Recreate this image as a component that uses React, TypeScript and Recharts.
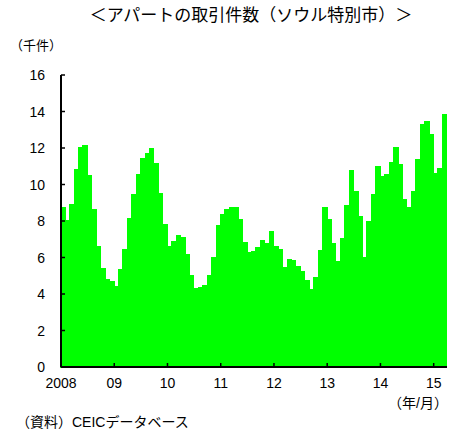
import { Bar, BarChart, XAxis, YAxis } from "recharts";

// monthly transactions, thousand units (2008/01 - 2015/03)
const YEARS = [2008, 2009, 2010, 2011, 2012, 2013, 2014, 2015];
const YEAR_LABELS = ["2008", "09", "10", "11", "12", "13", "14", "15"];
const Y_TICKS = [0, 2, 4, 6, 8, 10, 12, 14, 16];

const V2008 = [8.7, 8.0, 8.9, 10.8, 12.0, 12.1, 10.5, 8.6, 6.6, 5.4, 4.8, 4.65];
const V2009 = [4.4, 5.35, 6.4, 8.15, 9.45, 10.55, 11.4, 11.7, 11.95, 11.15, 9.5, 7.8];
const V2010 = [6.6, 6.85, 7.2, 7.1, 6.15, 5.0, 4.3, 4.35, 4.45, 5.0, 6.0, 7.75];
const V2011 = [8.35, 8.6, 8.75, 8.7, 8.05, 6.8, 6.25, 6.3, 6.55, 6.9, 6.75, 7.4];
const V2012 = [6.6, 6.45, 5.45, 5.9, 5.8, 5.5, 5.2, 4.75, 4.25, 4.9, 6.35, 8.7];
const V2013 = [8.05, 6.75, 5.75, 7.05, 8.85, 10.75, 9.6, 8.25, 6.0, 7.95, 9.45, 11.0];
const V2014 = [10.4, 10.55, 11.2, 12.0, 11.1, 9.15, 8.7, 9.6, 11.35, 13.3, 13.45, 12.7];
const V2015 = [10.6, 10.85, 13.8];

const VALUES = [V2008, V2009, V2010, V2011, V2012, V2013, V2014, V2015];

const data = VALUES.flatMap((arr, yi) =>
  arr.map((v, mi) => ({
    month: `${YEARS[yi]}-${String(mi + 1).padStart(2, "0")}`,
    value: v,
  })),
);

const yearTicks = YEARS.map((y) => `${y}-01`);

const W = 451;
const H = 430;
const M = { top: 75, right: 4, left: 0, bottom: 0 };
const Y_W = 61;
const X_H = 63;
const HALF_BAND = (W - M.right - Y_W) / data.length / 2;

const FONT = '"Liberation Sans", "Noto Sans CJK JP", sans-serif';

function XTick(props: any) {
  const { x, y, payload, index } = props;
  const tx = x - HALF_BAND;
  return (
    <g>
      <line x1={tx} x2={tx} y1={y - 4} y2={y} stroke="#000" strokeWidth={1.5} />
      <text x={tx} y={y + 21} textAnchor="middle" fontSize={14} fill="#000" fontFamily={FONT}>
        {YEAR_LABELS[index] ?? payload.value}
      </text>
    </g>
  );
}

function YTick(props: any) {
  const { x, y, payload } = props;
  return (
    <g>
      <line x1={x} x2={x + 4} y1={y} y2={y} stroke="#000" strokeWidth={1.5} />
      <text x={x - 16} y={y + 5} textAnchor="end" fontSize={14} fill="#000" fontFamily={FONT}>
        {payload.value}
      </text>
    </g>
  );
}

export default function App() {
  return (
    <div
      style={{
        position: "absolute",
        left: 0,
        top: 0,
        width: W,
        height: H,
        background: "#fff",
        fontFamily: FONT,
        color: "#000",
      }}
    >
      <BarChart width={W} height={H} data={data} margin={M} barCategoryGap={0} barGap={0}>
        <Bar
          dataKey="value"
          fill="#00ff00"
          stroke="#00ff00"
          strokeWidth={1.5}
          shapeRendering="crispEdges"
          isAnimationActive={false}
        />
        <XAxis
          dataKey="month"
          ticks={yearTicks}
          interval={0}
          height={X_H}
          tickSize={0}
          tickMargin={0}
          tickLine={false}
          tick={<XTick />}
          axisLine={{ stroke: "#000", strokeWidth: 2 }}
        />
        <YAxis
          domain={[0, 16]}
          ticks={Y_TICKS}
          width={Y_W}
          tickSize={0}
          tickMargin={0}
          tickLine={false}
          tick={<YTick />}
          axisLine={{ stroke: "#000", strokeWidth: 2 }}
        />
      </BarChart>

      <div style={{ position: "absolute", left: 0, width: 502, top: 5, textAlign: "center", fontSize: 17, lineHeight: "22px" }}>
        ＜アパートの取引件数（ソウル特別市）＞
      </div>
      <div style={{ position: "absolute", left: 10, top: 37, fontSize: 13, lineHeight: "18px" }}>（千件）</div>
      <div style={{ position: "absolute", left: 388, top: 394, fontSize: 14, lineHeight: "18px" }}>（年/月）</div>
      <div style={{ position: "absolute", left: 16, top: 413, fontSize: 14, lineHeight: "18px" }}>
        （資料）CEICデータベース
      </div>
    </div>
  );
}
